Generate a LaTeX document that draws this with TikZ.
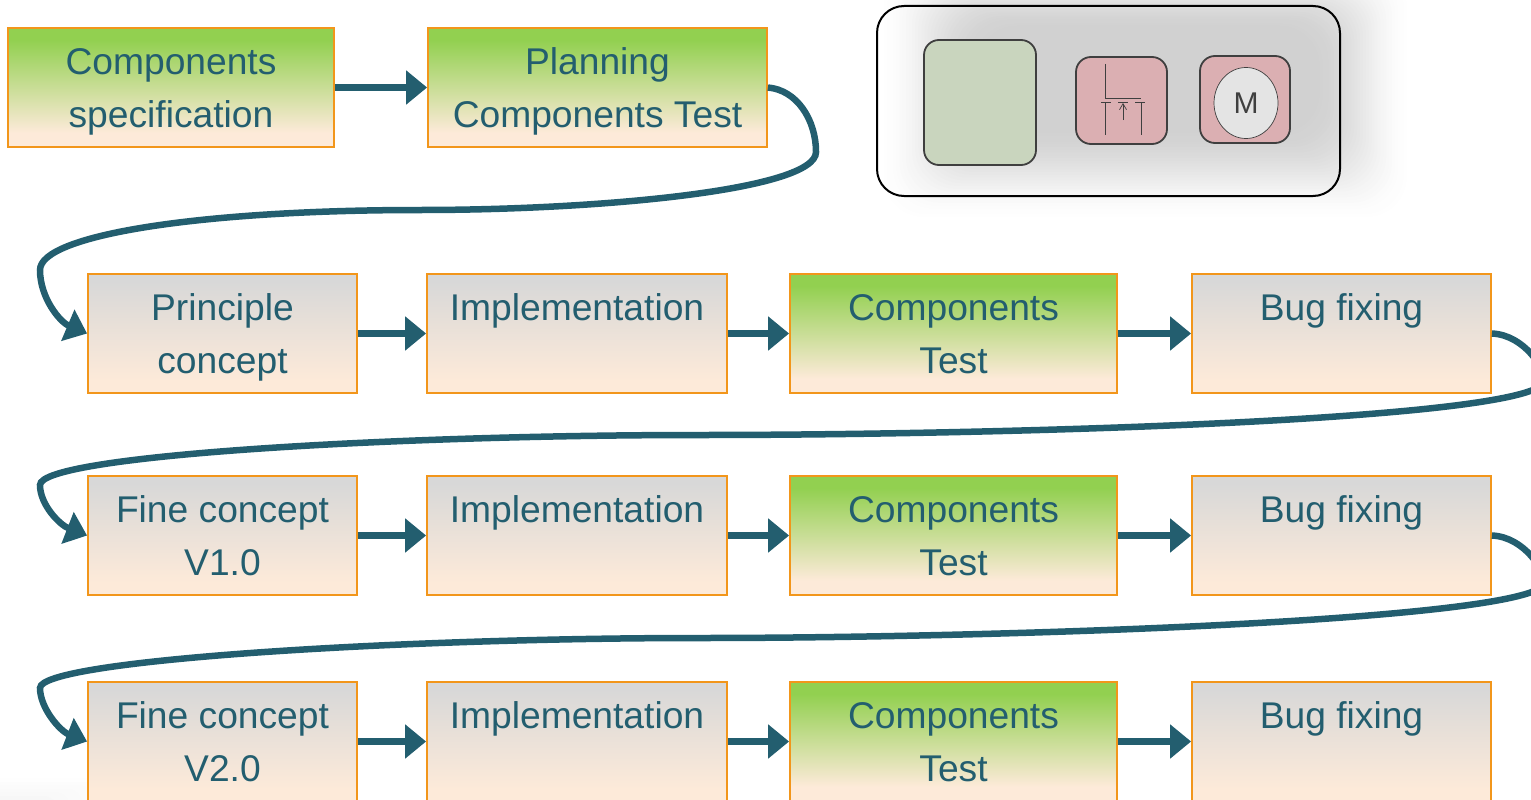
\documentclass[tikz,border=0pt]{standalone}
\usepackage{fontspec}
\setmainfont{Liberation Sans}
\usetikzlibrary{arrows.meta,shapes.geometric}
\definecolor{flowteal}{HTML}{235E6F}
\definecolor{boxorange}{HTML}{F2961B}
\definecolor{boxsand}{HTML}{FDEAD9}
\definecolor{boxgrey}{HTML}{D8D8D8}
\definecolor{boxgreen}{HTML}{92D050}
\definecolor{partedge}{HTML}{3F3F3F}
\definecolor{partgreen}{HTML}{C9D5BE}
\definecolor{partpink}{HTML}{DBAFB2}
\definecolor{motorfill}{HTML}{E4E4E4}
\pgfdeclareverticalshading{greyfade}{100bp}{color(0bp)=(boxsand); color(30bp)=(boxsand); color(72bp)=(boxgrey); color(100bp)=(boxgrey)}
\pgfdeclareverticalshading{greenfade}{100bp}{color(0bp)=(boxsand); color(31bp)=(boxsand); color(70bp)=(boxgreen); color(100bp)=(boxgreen)}
\tikzset{
  taskbox/.style={draw=boxorange, line width=1.8pt, minimum height=119pt, inner sep=0pt,
    align=center, text=flowteal, font=\fontsize{37.2}{53.5}\selectfont},
  greybox/.style={taskbox, shading=greyfade},
  testbox/.style={taskbox, shading=greenfade},
  flow/.style={draw=flowteal, line width=6.5pt, -{Triangle[length=21pt,width=33pt]}},
  partbox/.style={draw=partedge, line width=1.8pt, rounded corners=15pt, inner sep=0pt},
  symline/.style={draw=partedge, line width=1pt}
}
\newcommand{\tl}{\rule[-12.5pt]{0pt}{51.5pt}}
\begin{document}
\begin{tikzpicture}[x=1pt, y=-1pt]
  \useasboundingbox (0,0) rectangle (1531,800);
  \clip (0,0) rectangle (1531,800);
  \def\colA{222.5};
  \def\colB{577};
  \def\colC{953.5};
  \def\colD{1341.5};
  %
  % soft shadows
  \foreach \n in {0,...,35} {
    \pgfmathsetmacro{\pct}{18*sin(90*\n/35)*sin(90*\n/35)}
    \fill[black!\pct, rounded corners=40pt]
      (875+3.1*\n,-40+2*\n) rectangle (1415-2.9*\n,225-2.8*\n);
  }
  \foreach \n in {0,...,6} {
    \pgfmathsetmacro{\pct}{.5*\n}
    \fill[black!\pct, rounded corners=15pt]
      (-60,775+3.5*\n) rectangle (130-12*\n,850);
  }
  \draw[line width=2pt, rounded corners=27pt] (877,6) rectangle (1340,196);
  %
  \node[partbox, fill=partgreen, minimum width=112pt, minimum height=125pt] (ctrl) at (980,102.5) {};
  \node[partbox, fill=partpink, minimum width=91pt, minimum height=87pt] (drive) at (1121.5,100.5) {};
  \node[partbox, fill=partpink, minimum width=90pt, minimum height=87pt] (motorbox) at (1245,99.5) {};
  \node[draw=partedge, fill=motorfill, ellipse, line width=.7pt, minimum width=64pt,
    minimum height=71pt, inner sep=0pt, font=\fontsize{30}{36}\selectfont, text=partedge] (motor) at (1246,103) {M};
  %
  % symbol in the drive box
  \draw[symline] (1105,64) -- (1105,98) -- (1141,98);
  \draw[symline] (1101,102) -- (1111,102) (1105,102) -- (1105,135);
  \draw[symline] (1135,102) -- (1145,102) (1141,102) -- (1141,135);
  \draw[symline] (1118,102) -- (1128,102);
  \draw[symline, line width=.7pt, -{Straight Barb[length=6pt,width=7pt]}] (1123,120) -- (1123,103);
  %
  % first row
  \node[testbox, minimum width=326pt] (spec) at (171,87.5) {\tl Components\\\tl specification};
  \node[testbox, minimum width=339pt] (plan) at (597.5,87.5) {\tl Planning\\\tl Components Test};
  \draw[flow] (spec) -- (plan);
  %
  % the three long rows
  \foreach \r/\ypos/\ta/\tb in {1/333.5/Principle/concept, 2/535.5/Fine concept/V1.0, 3/741.5/Fine concept/V2.0} {
    \node[greybox, minimum width=269pt] (conc\r) at (\colA,\ypos) {\tl \ta\\\tl \tb};
    \node[greybox, minimum width=300pt] (impl\r) at (\colB,\ypos) {\tl Implementation\\\tl};
    \node[testbox, minimum width=327pt] (test\r) at (\colC,\ypos) {\tl Components\\\tl Test};
    \node[greybox, minimum width=299pt] (bug\r) at (\colD,\ypos) {\tl Bug fixing\\\tl};
    \draw[flow] (conc\r) -- (impl\r);
    \draw[flow] (impl\r) -- (test\r);
    \draw[flow] (test\r) -- (bug\r);
  }
  %
  % connectors between the rows
  \draw[flow] (plan.east) .. controls (797,90) and (816,120) .. (816,152)
    .. controls (816,190) and (600,210) .. (420,210)
    .. controls (200,210) and (40,235) .. (40,270)
    .. controls (40,298) and (60,322) .. (conc1.west);
  \draw[flow] (bug1.east) .. controls (1525,335) and (1545,370) .. (1545,380)
    .. controls (1545,420) and (1000,435) .. (700,435)
    .. controls (400,435) and (40,455) .. (40,485)
    .. controls (40,505) and (60,525) .. (conc2.west);
  \draw[flow] (bug2.east) .. controls (1525,537) and (1545,572) .. (1545,582)
    .. controls (1545,620) and (1000,638) .. (700,638)
    .. controls (400,638) and (40,660) .. (40,688)
    .. controls (40,708) and (60,731) .. (conc3.west);
\end{tikzpicture}
\end{document}
